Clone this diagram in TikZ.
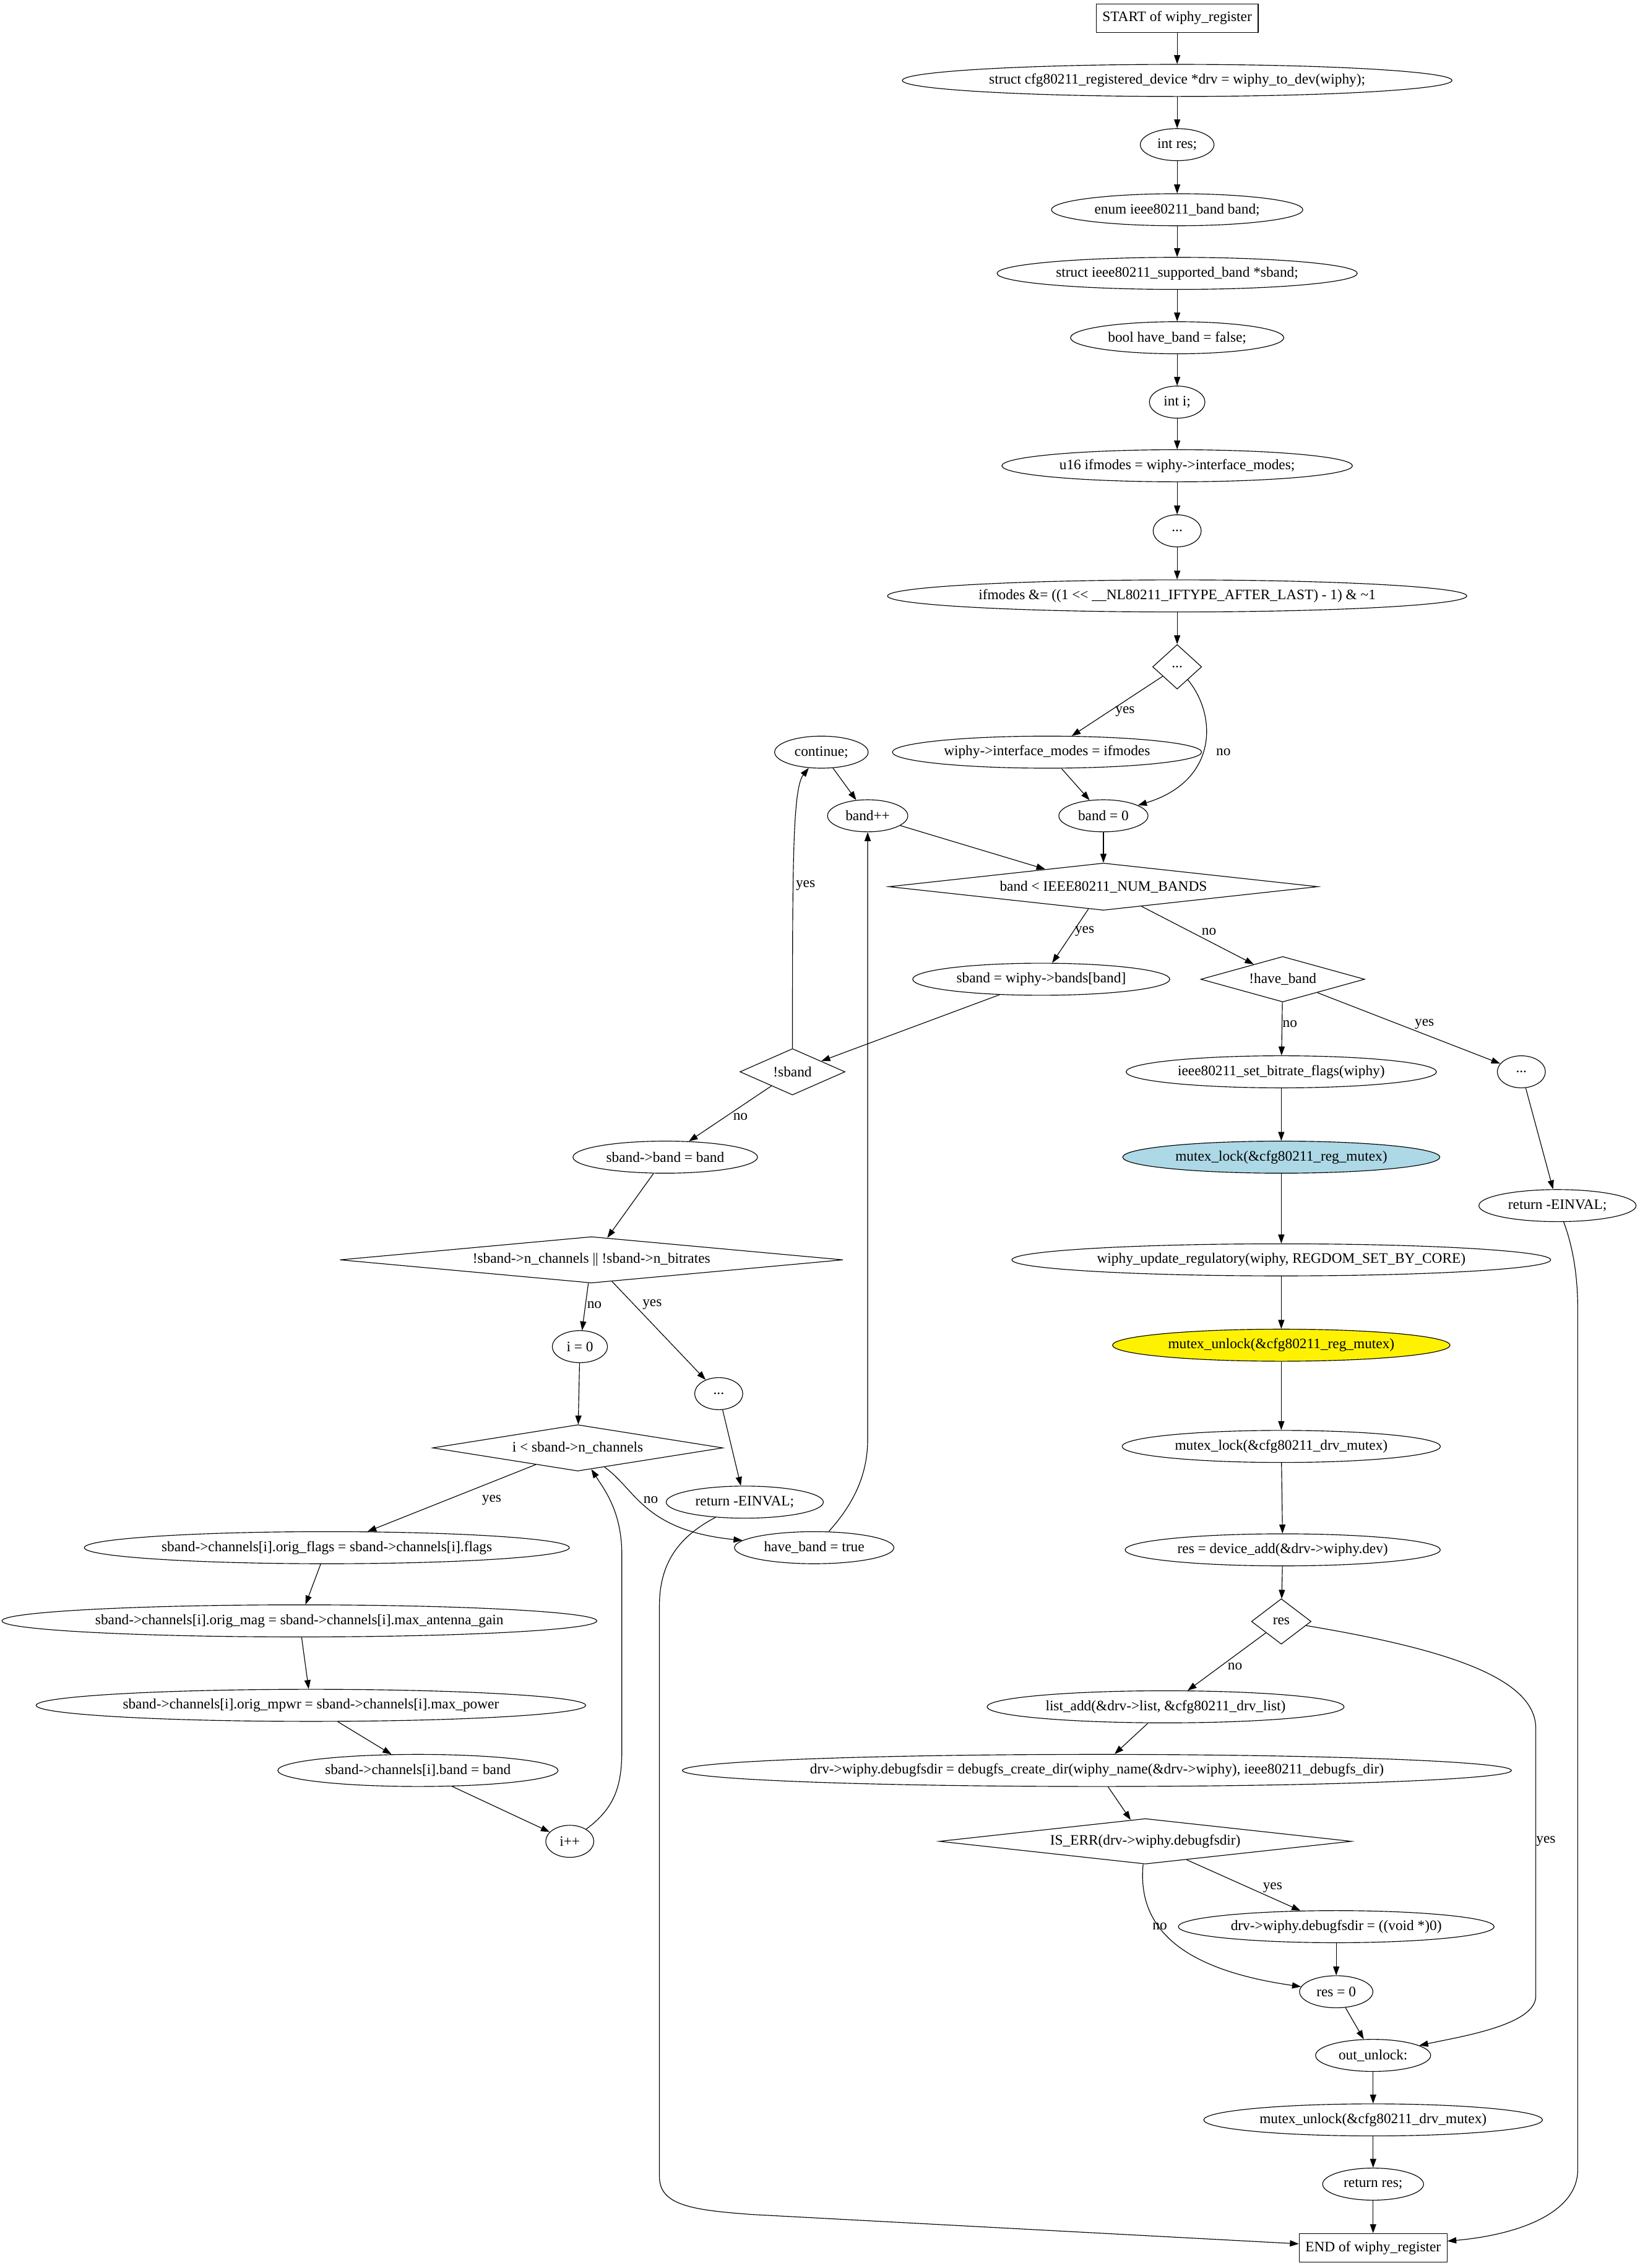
\documentclass[tikz,border=0pt]{standalone}
\usepackage{fontspec}
\setmainfont{Liberation Serif}
\usetikzlibrary{shapes.geometric,arrows.meta}
\definecolor{gvblue}{HTML}{ADD8E6}

\begin{document}
\begin{tikzpicture}[x=1.624pt, y=-1.624pt, line width=0.8pt,
    font=\fontsize{16.2}{19}\selectfont, >={Triangle[length=10pt,width=7pt]}]
  \tikzset{
    stmt/.style={ellipse, draw, inner xsep=7pt, inner ysep=2pt, minimum height=36pt, minimum width=54pt},
    term/.style={rectangle, draw, inner xsep=7pt, minimum height=32pt},
    cond/.style n args={3}{diamond, draw, inner sep=0pt, aspect=#3, minimum width=#1, minimum height=#2},
    lbl/.style={inner sep=1pt}
  }
  \useasboundingbox (0,0) rectangle (1134,1568);

  \node[term] (start) at (814,12.5) {START of wiphy\_register};
  \node[stmt] (drv) at (814,55.6) {struct cfg80211\_registered\_device *drv = wiphy\_to\_dev(wiphy);};
  \node[stmt] (ires) at (814,100) {int res;};
  \node[stmt] (eband) at (814,145) {enum ieee80211\_band band;};
  \node[stmt] (ssband) at (814,189) {struct ieee80211\_supported\_band *sband;};
  \node[stmt] (hbf) at (814,233.5) {bool have\_band = false;};
  \node[stmt] (ii) at (814,278) {int i;};
  \node[stmt] (ifm) at (814,322) {u16 ifmodes = wiphy->interface\_modes;};
  \node[stmt] (dots1) at (814,367) {...};
  \node[stmt] (ifand) at (814,412) {ifmodes \&= ((1 <{}< \_\_NL80211\_IFTYPE\_AFTER\_LAST) - 1) \& \textasciitilde1};
  \node[cond={55pt}{50pt}{1}] (dotsD) at (814,461) {...};
  \node[stmt] (cont) at (568,520) {continue;};
  \node[stmt] (ifset) at (724,520) {wiphy->interface\_modes = ifmodes};
  \node[stmt] (bandpp) at (600,564) {band++};
  \node[stmt] (bandzero) at (763,564) {band = 0};
  \node[cond={482pt}{53pt}{8}] (bandlt) at (763,613) {band < IEEE80211\_NUM\_BANDS};
  \node[stmt] (sbandset) at (720,677) {sband = wiphy->bands[band]};
  \node[cond={184pt}{51pt}{3}] (haveD) at (887,677) {!have\_band};
  \node[cond={118pt}{52pt}{2}] (sbandD) at (548,741) {!sband};
  \node[stmt] (setbr) at (886,741) {ieee80211\_set\_bitrate\_flags(wiphy)};
  \node[stmt] (dotsR) at (1052,741) {...};
  \node[stmt] (sbb) at (460,800) {sband->band = band};
  \node[stmt, fill=gvblue] (mlock) at (886,800) {mutex\_lock(\&cfg80211\_reg\_mutex)};
  \node[stmt] (retr) at (1077,833.5) {return -EINVAL;};
  \node[cond={565pt}{52pt}{10}] (nchD) at (409,871) {!sband->n\_channels || !sband->n\_bitrates};
  \node[stmt] (wupd) at (886,871) {wiphy\_update\_regulatory(wiphy, REGDOM\_SET\_BY\_CORE)};
  \node[stmt] (izero) at (401,931) {i = 0};
  \node[stmt, fill=yellow] (munlock) at (886,930) {mutex\_unlock(\&cfg80211\_reg\_mutex)};
  \node[stmt] (dotsL) at (497,963.5) {...};
  \node[cond={326pt}{52pt}{6}] (ilt) at (399.5,1001) {i < sband->n\_channels};
  \node[stmt] (mdl) at (886,1000) {mutex\_lock(\&cfg80211\_drv\_mutex)};
  \node[stmt] (retm) at (515,1038.5) {return -EINVAL;};
  \node[stmt] (oflags) at (226,1070) {sband->channels[i].orig\_flags = sband->channels[i].flags};
  \node[stmt] (hbt) at (563,1070) {have\_band = true};
  \node[stmt] (devadd) at (887,1071.5) {res = device\_add(\&drv->wiphy.dev)};
  \node[cond={67pt}{51pt}{1.5}] (resD) at (886,1121) {res};
  \node[stmt] (omag) at (207,1120.6) {sband->channels[i].orig\_mag = sband->channels[i].max\_antenna\_gain};
  \node[stmt] (ladd) at (806,1180) {list\_add(\&drv->list, \&cfg80211\_drv\_list)};
  \node[stmt] (ompwr) at (215,1179) {sband->channels[i].orig\_mpwr = sband->channels[i].max\_power};
  \node[stmt] (chband) at (289,1224) {sband->channels[i].band = band};
  \node[stmt] (dbg) at (758.5,1224) {drv->wiphy.debugfsdir = debugfs\_create\_dir(wiphy\_name(\&drv->wiphy), ieee80211\_debugfs\_dir)};
  \node[cond={463pt}{51pt}{9}] (iserr) at (792,1273) {IS\_ERR(drv->wiphy.debugfsdir)};
  \node[stmt] (ipp) at (394,1273) {i++};
  \node[stmt] (voidz) at (924,1332) {drv->wiphy.debugfsdir = ((void *)0)};
  \node[stmt] (reszero) at (924,1377) {res = 0};
  \node[stmt] (outu) at (949.5,1421) {out\_unlock:};
  \node[stmt] (mdu) at (949.5,1465.6) {mutex\_unlock(\&cfg80211\_drv\_mutex)};
  \node[stmt] (retres) at (949.5,1510) {return res;};
  \node[term] (endb) at (949.5,1554) {END of wiphy\_register};

  \draw[->] (start) -- (drv);
  \draw[->] (drv) -- (ires);
  \draw[->] (ires) -- (eband);
  \draw[->] (eband) -- (ssband);
  \draw[->] (ssband) -- (hbf);
  \draw[->] (hbf) -- (ii);
  \draw[->] (ii) -- (ifm);
  \draw[->] (ifm) -- (dots1);
  \draw[->] (dots1) -- (ifand);
  \draw[->] (ifand) -- (dotsD);
  \draw[->] (dotsD) -- (ifset) node[lbl] at (778,492) {yes};
  \draw[->] (dotsD) .. controls (842,495) and (842,540) .. (bandzero) node[lbl] at (846,520) {no};
  \draw[->] (ifset) -- (bandzero);
  \draw[->] (bandzero) -- (bandlt);
  \draw[->] (cont) -- (bandpp);
  \draw[->] (bandpp) -- (bandlt);
  \draw[->] (bandlt) -- (sbandset) node[lbl] at (750,644) {yes};
  \draw[->] (bandlt) -- (haveD) node[lbl] at (836,644) {no};
  \draw[->] (sbandset) -- (sbandD);
  \draw[->] (sbandD) .. controls (548,600) and (548,545) .. (cont) node[lbl] at (557,612) {yes};
  \draw[->] (sbandD) -- (sbb) node[lbl] at (512,772) {no};
  \draw[->] (sbb) -- (nchD);
  \draw[->] (nchD) -- (izero) node[lbl] at (411,902) {no};
  \draw[->] (nchD) -- (dotsL) node[lbl] at (451,902) {yes};
  \draw[->] (dotsL) -- (retm);
  \draw[->] (retm) .. controls (470,1062) and (456,1080) .. (456,1110) -- (456,1505)
    .. controls (456,1525) and (480,1528) .. (520,1531) -- (endb);
  \draw[->] (izero) -- (ilt);
  \draw[->] (ilt) -- (oflags) node[lbl] at (340,1037) {yes};
  \draw[->] (ilt) .. controls (440,1030) and (445,1058) .. (hbt) node[lbl] at (450,1037) {no};
  \draw[->] (hbt) .. controls (590,1040) and (600,1020) .. (600,995) -- (bandpp);
  \draw[->] (oflags) -- (omag);
  \draw[->] (omag) -- (ompwr);
  \draw[->] (ompwr) -- (chband);
  \draw[->] (chband) -- (ipp);
  \draw[->] (ipp) .. controls (425,1250) and (430,1235) .. (430,1210) -- (430,1075)
    .. controls (430,1045) and (418,1030) .. (ilt);
  \draw[->] (haveD) -- (setbr) node[lbl] at (892,708) {no};
  \draw[->] (haveD) -- (dotsR) node[lbl] at (985,708) {yes};
  \draw[->] (dotsR) -- (retr);
  \draw[->] (retr) .. controls (1087,860) and (1091,880) .. (1091,905) -- (1091,1500)
    .. controls (1091,1530) and (1050,1545) .. (endb);
  \draw[->] (setbr) -- (mlock);
  \draw[->] (mlock) -- (wupd);
  \draw[->] (wupd) -- (munlock);
  \draw[->] (munlock) -- (mdl);
  \draw[->] (mdl) -- (devadd);
  \draw[->] (devadd) -- (resD);
  \draw[->] (resD) -- (ladd) node[lbl] at (854,1152) {no};
  \draw[->] (resD) .. controls (1000,1140) and (1062,1160) .. (1062,1195) -- (1062,1380)
    .. controls (1062,1400) and (1010,1408) .. (outu) node[lbl] at (1069,1273) {yes};
  \draw[->] (ladd) -- (dbg);
  \draw[->] (dbg) -- (iserr);
  \draw[->] (iserr) -- (voidz) node[lbl] at (880,1305) {yes};
  \draw[->] (iserr) .. controls (786,1335) and (820,1362) .. (reszero) node[lbl] at (802,1332) {no};
  \draw[->] (voidz) -- (reszero);
  \draw[->] (reszero) -- (outu);
  \draw[->] (outu) -- (mdu);
  \draw[->] (mdu) -- (retres);
  \draw[->] (retres) -- (endb);
\end{tikzpicture}
\end{document}
